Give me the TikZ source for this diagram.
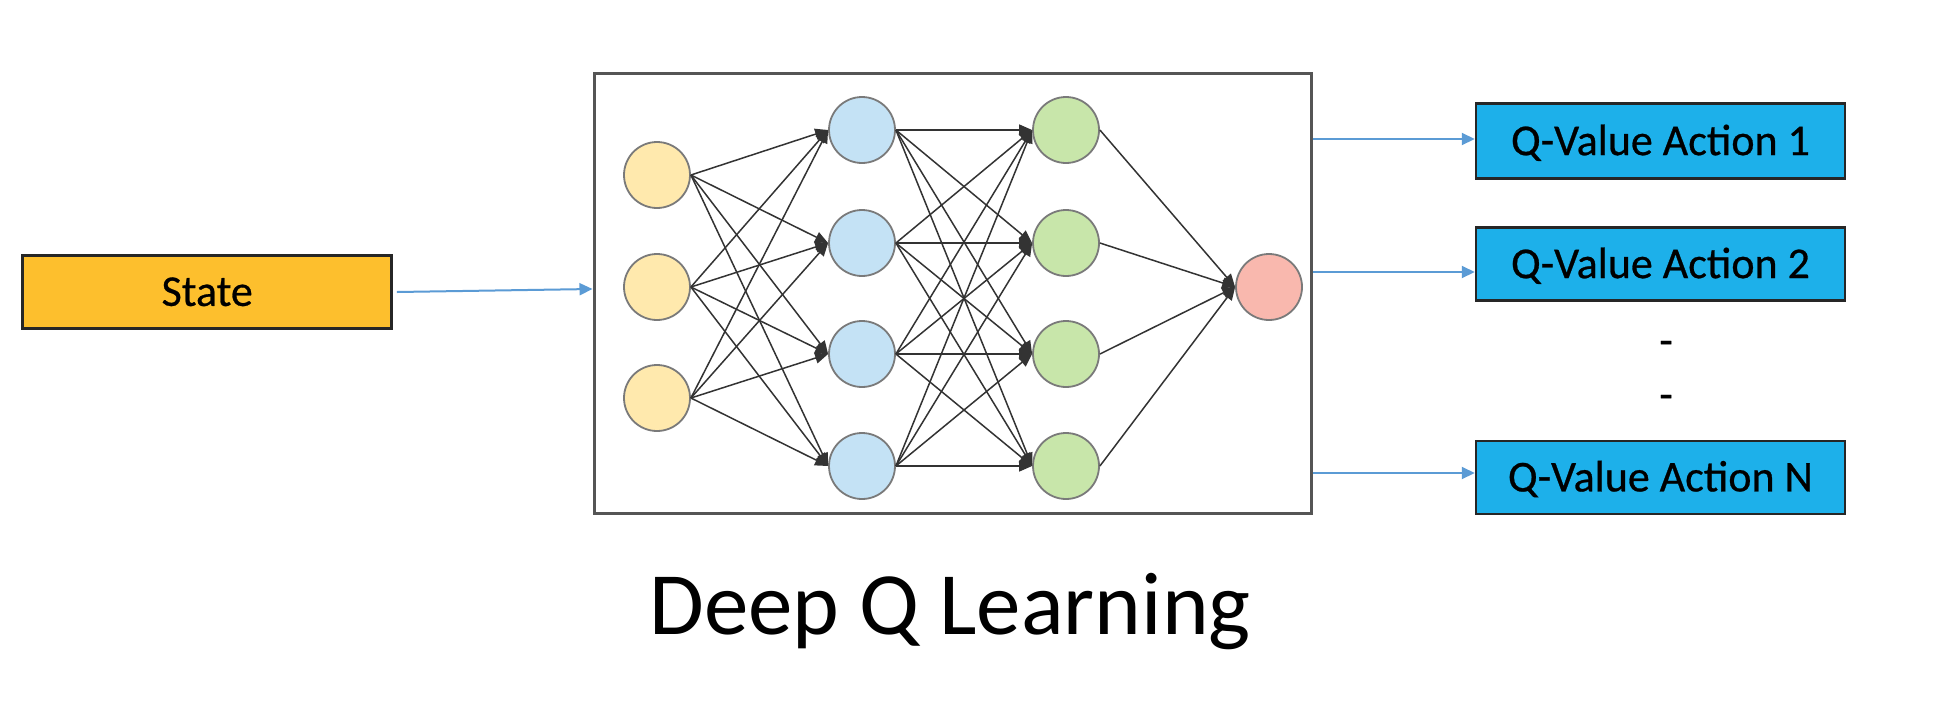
\documentclass[tikz,border=0pt]{standalone}
\usepackage{fontspec}
\setmainfont{Carlito}
\newfontfamily\labelfont[FakeBold=0.6]{Carlito}
\usetikzlibrary{arrows.meta}
\definecolor{stateorange}{HTML}{FDBF2D}
\definecolor{qblue}{HTML}{1DB0EA}
\definecolor{inyellow}{HTML}{FFE9AD}
\definecolor{hidblue}{HTML}{C4E2F5}
\definecolor{hidgreen}{HTML}{C8E6AA}
\definecolor{outpink}{HTML}{F9B8AE}
\definecolor{arrowblue}{HTML}{5B9BD5}
\definecolor{ringgray}{HTML}{7A7A7A}
\definecolor{edgegray}{HTML}{333333}
\definecolor{framegray}{HTML}{555555}
\begin{document}
\begin{tikzpicture}[x=1pt,y=-1pt,
  neuron/.style={circle, minimum size=66pt, inner sep=0pt, draw=ringgray, line width=1.8pt},
  labelbox/.style={draw=black!85, line width=2.5pt, inner sep=0pt, minimum width=369pt,
    text height=27.8pt, text depth=0pt, font=\labelfont\fontsize{44}{50}\selectfont},
  synapse/.style={draw=edgegray, line width=1.5pt, -{Triangle[length=13pt,width=11pt]}},
  feed/.style={draw=arrowblue, line width=2pt, -{Triangle[length=13pt,width=12pt]}},
  dashmark/.style={font=\labelfont\fontsize{44}{50}\selectfont, inner sep=0pt}]
\useasboundingbox (0,0) rectangle (1943,726);
\fill[white] (0,0) rectangle (1943,726);

% input state
\node[labelbox, fill=stateorange, minimum height=72.6pt] (state) at (207.2,292) {State};

% network frame
\node[draw=framegray, line width=3pt, minimum width=717pt, minimum height=440pt, inner sep=0pt] (net) at (952.5,293) {};

% neurons
\foreach \i/\y in {1/175,2/287,3/398}
  \node[neuron, fill=inyellow] (i\i) at (657,\y) {};
\foreach \j/\y in {1/130,2/243,3/354,4/466}{
  \node[neuron, fill=hidblue] (h\j) at (862,\y) {};
  \node[neuron, fill=hidgreen] (g\j) at (1066,\y) {};
}
\node[neuron, fill=outpink] (o) at (1269,287) {};

% connections
\foreach \i in {1,2,3}
  \foreach \j in {1,2,3,4}
    \draw[synapse] (i\i.east) -- (h\j.west);
\foreach \i in {1,2,3,4}
  \foreach \j in {1,2,3,4}
    \draw[synapse] (h\i.east) -- (g\j.west);
\foreach \j in {1,2,3,4}
  \draw[synapse] (g\j.east) -- (o.west);

% output boxes
\node[labelbox, fill=qblue, minimum height=75pt] (q1) at (1660.5,141.2) {Q-Value Action 1};
\node[labelbox, fill=qblue, minimum height=73pt] (q2) at (1660.5,264.2) {Q-Value Action 2};
\node[labelbox, fill=qblue, minimum height=73pt] (qn) at (1660.5,477.5) {Q-Value Action N};

\node[dashmark] (d1) at (1666,348) {-};
\node[dashmark] (d2) at (1666,402) {-};

% blue connectors
\coordinate (ys) at (0,289);
\coordinate (y1) at (0,139);
\coordinate (y2) at (0,272);
\coordinate (yn) at (0,473);
\draw[feed] ([xshift=4pt]state.east) -- (net.west |- ys);
\draw[feed] (net.east |- y1) -- (q1.west |- y1);
\draw[feed] (net.east |- y2) -- (q2.west |- y2);
\draw[feed] (net.east |- yn) -- (qn.west |- yn);

% title
\node[font=\fontsize{89}{100}\selectfont, anchor=base, inner sep=0pt] (title) at (950,634) {Deep Q Learning};
\end{tikzpicture}
\end{document}
